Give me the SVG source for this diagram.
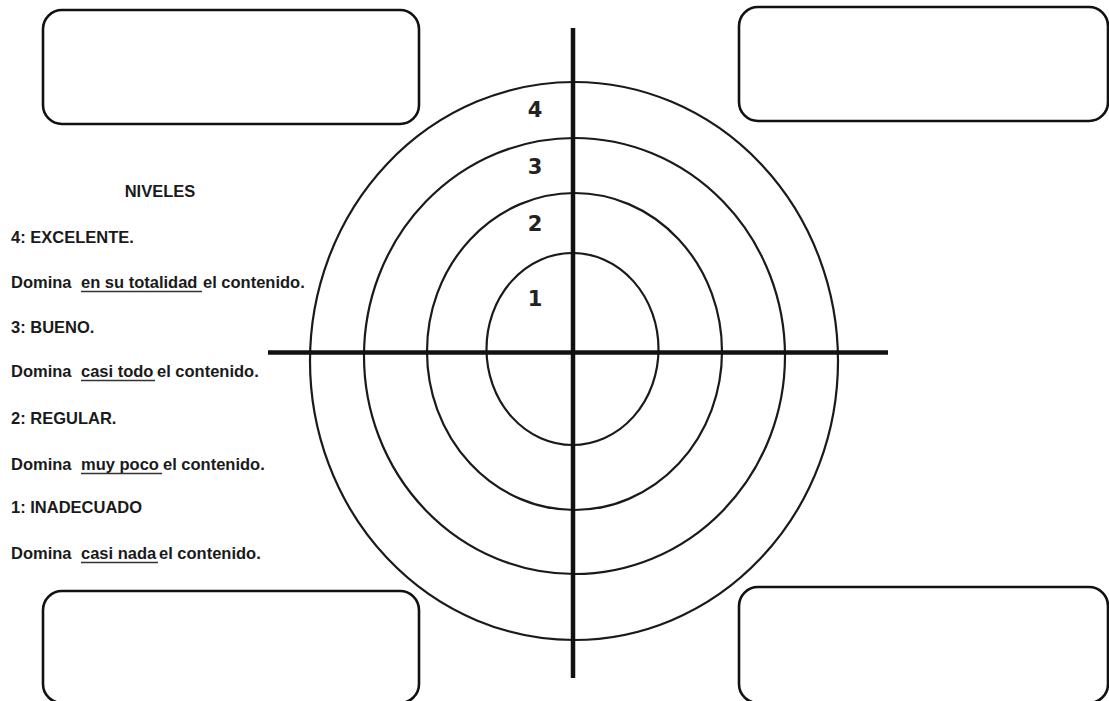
<svg xmlns="http://www.w3.org/2000/svg" width="1109" height="701" viewBox="0 0 1109 701">
<style>
.box{fill:#fff;stroke:#111;stroke-width:2.6}
.ring{fill:none;stroke:#1a1a1a;stroke-width:2.2}
.axis{stroke:#111;stroke-width:4.5;stroke-linecap:butt}
.t{font-family:"Liberation Sans",Arial,sans-serif;font-weight:bold;font-size:16.5px;fill:#1a1a1a}
.num{font-family:"DejaVu Sans",sans-serif;font-weight:bold;font-size:21px;fill:#222;text-anchor:middle}
.ul{stroke:#333;stroke-width:1.3}
</style>
<rect width="1109" height="701" fill="#fff"/>
<g id="box-top-left"><rect class="box" x="43" y="10" width="376" height="114" rx="19"/></g>
<g id="box-top-right"><rect class="box" x="739" y="7" width="369" height="114" rx="19"/></g>
<g id="box-bottom-left"><rect class="box" x="43" y="591" width="376" height="112" rx="19"/></g>
<g id="box-bottom-right"><rect class="box" x="739" y="587" width="369" height="116" rx="19"/></g>
<g id="target">
<ellipse class="ring" cx="574" cy="361" rx="264" ry="279"/>
<ellipse class="ring" cx="574.5" cy="356" rx="210.5" ry="218"/>
<ellipse class="ring" cx="574.5" cy="351.5" rx="147.5" ry="158.5"/>
<ellipse class="ring" cx="572.5" cy="349" rx="86" ry="96"/>
<text class="num" x="535" y="117">4</text>
<text class="num" x="535" y="174">3</text>
<text class="num" x="535" y="231">2</text>
<text class="num" x="535" y="306">1</text>
</g>
<g id="connectors">
<line class="axis" x1="573" y1="28" x2="573" y2="678"/>
<line class="axis" x1="268" y1="352.5" x2="888" y2="352.5"/>
</g>
<g id="legend">
<text class="t" x="160" y="197" text-anchor="middle" font-size="15">NIVELES</text>
<text class="t" x="11" y="243">4: EXCELENTE.</text>
<text class="t" x="11" y="288"><tspan>Domina</tspan><tspan x="81">en su totalidad</tspan><tspan x="203">el contenido.</tspan></text>
<line class="ul" x1="81" y1="291.5" x2="202" y2="291.5"/>
<text class="t" x="11" y="333">3: BUENO.</text>
<text class="t" x="11" y="377"><tspan>Domina</tspan><tspan x="81">casi todo</tspan><tspan x="157">el contenido.</tspan></text>
<line class="ul" x1="81" y1="380.5" x2="155" y2="380.5"/>
<text class="t" x="11" y="424">2: REGULAR.</text>
<text class="t" x="11" y="470"><tspan>Domina</tspan><tspan x="81">muy poco</tspan><tspan x="163">el contenido.</tspan></text>
<line class="ul" x1="81" y1="473.5" x2="162" y2="473.5"/>
<text class="t" x="11" y="513">1: INADECUADO</text>
<text class="t" x="11" y="559"><tspan>Domina</tspan><tspan x="81">casi nada</tspan><tspan x="159">el contenido.</tspan></text>
<line class="ul" x1="81" y1="562.5" x2="158" y2="562.5"/>
</g>
</svg>
